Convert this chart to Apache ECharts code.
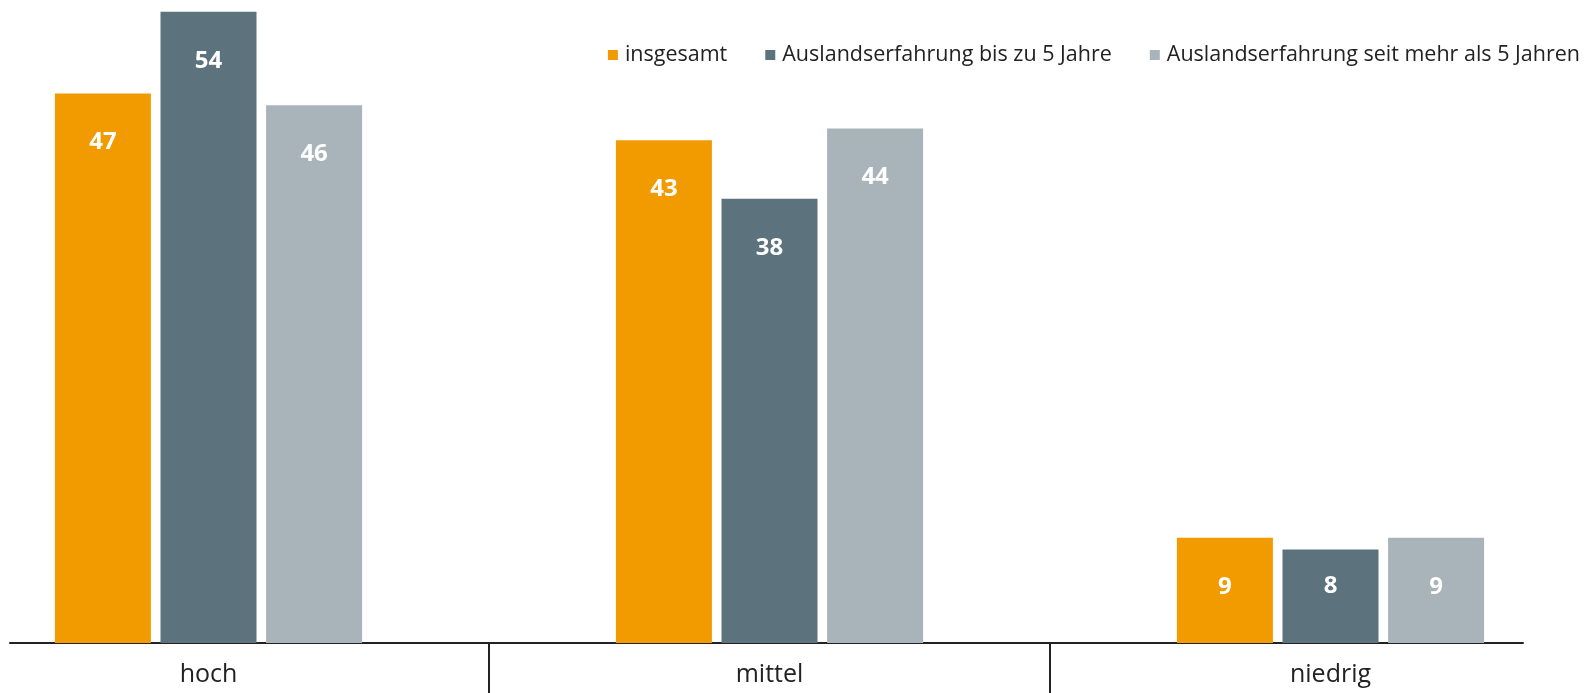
<!DOCTYPE html>
<html>
<head>
<meta charset="utf-8">
<script src="https://cdn.jsdelivr.net/npm/echarts@6/dist/echarts.min.js"></script>
<style>
html, body { margin: 0; padding: 0; background: #fff; overflow: hidden; width: 1592px; height: 693px; }
/* the category band of "hoch" starts left of the visible area */
#chart { position: absolute; left: -72px; top: 0; width: 1683px; height: 693px; }
</style>
</head>
<body>
<div id="chart"></div>
<script>
var categories = ['hoch', 'mittel', 'niedrig'];
var seriesNames = ['insgesamt', 'Auslandserfahrung bis zu 5 Jahre', 'Auslandserfahrung seit mehr als 5 Jahren'];
var insgesamt = [47, 43, 9];
var bisFuenf = [54, 38, 8];
var mehrAlsFuenf = [46, 44, 9];
var colors = ['#f29b00', '#5c727c', '#a9b3ba'];

var font = '"Open Sans", sans-serif';

function barSeries(name, values, color) {
    return {
        name: name,
        type: 'bar',
        xAxisIndex: 0,
        yAxisIndex: 0,
        barWidth: 96,
        barGap: '10%',
        itemStyle: { color: color },
        label: {
            show: true,
            position: 'insideTop',
            distance: 37,
            color: '#fff',
            fontFamily: font,
            fontWeight: 'bold',
            fontSize: 24
        },
        // short bars keep their labels on one line
        data: values.map(function (v) {
            var item = { value: v };
            if (v < 9) item.label = { distance: 25 };
            return item;
        })
    };
}

var chart = echarts.init(document.getElementById('chart'));
chart.setOption({
    animation: false,
    color: colors,
    legend: {
        right: 26,
        top: 39,
        itemWidth: 10,
        itemHeight: 10,
        itemGap: 38,
        icon: 'rect',
        textStyle: { fontFamily: font, fontSize: 21.5, color: '#222', padding: [0, 0, 0, 2] },
        data: seriesNames
    },
    grid: [
        { left: 0, right: 0, top: 0, bottom: 50 },
        { left: 82, right: 88, top: 0, bottom: 50 }
    ],
    xAxis: [
        {
            type: 'category',
            gridIndex: 0,
            data: categories,
            axisLine: { show: false },
            axisTick: { show: true, length: 50, lineStyle: { color: '#222', width: 2 } },
            axisLabel: { margin: 19, fontFamily: font, fontSize: 25, color: '#222' }
        },
        {
            type: 'value',
            gridIndex: 1,
            min: 0,
            max: 1,
            axisLine: { show: true, lineStyle: { color: '#222', width: 2 } },
            axisTick: { show: false },
            axisLabel: { show: false },
            splitLine: { show: false }
        }
    ],
    yAxis: [
        {
            type: 'value',
            gridIndex: 0,
            min: 0,
            max: 55,
            show: false
        },
        {
            type: 'value',
            gridIndex: 1,
            min: 0,
            max: 1,
            show: false
        }
    ],
    series: [
        barSeries(seriesNames[0], insgesamt, colors[0]),
        barSeries(seriesNames[1], bisFuenf, colors[1]),
        barSeries(seriesNames[2], mehrAlsFuenf, colors[2])
    ]
});
</script>
</body>
</html>
